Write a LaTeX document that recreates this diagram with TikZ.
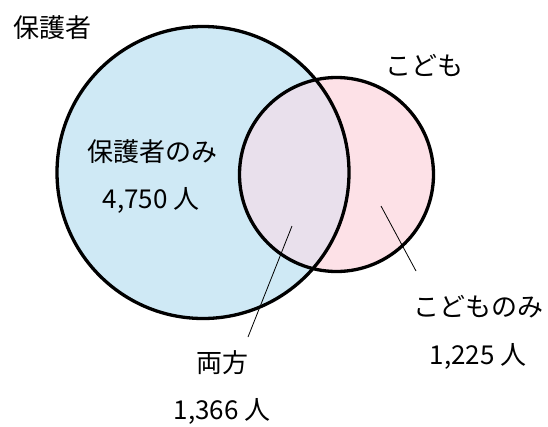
\documentclass[tikz,border=0pt]{standalone}
\usepackage{fontspec}
\newfontfamily\jp{Noto Sans CJK JP}
\definecolor{blue1}{HTML}{CFE9F5}
\definecolor{pink1}{HTML}{FDE1E7}
\definecolor{lav1}{HTML}{E9E0EC}
\tikzset{lbl/.style={font=\jp\fontsize{26}{30}\selectfont, inner sep=0pt},
  ring/.style={draw=black, line width=3.3pt},
  ptr/.style={draw=black, line width=0.8pt}}
\begin{document}
\begin{tikzpicture}[x=1pt,y=-1pt]
\useasboundingbox (0,0) rectangle (548,426);
\fill[white] (0,0) rectangle (548,426);
\coordinate (c1) at (203,172.5);
\coordinate (c2) at (336.5,174.5);
\fill[blue1] (c1) circle (146);
\fill[pink1] (c2) circle (97);
\begin{scope}
\clip (c1) circle (146);
\fill[lav1] (c2) circle (97);
\end{scope}
\draw[ring] (c1) circle (146);
\draw[ring] (c2) circle (97);
\node[lbl] (g) at (52,28) {保護者};
\node[lbl] (k) at (424,65) {こども};
\node[lbl] (go) at (152,152) {保護者のみ};
\node[lbl] (gn) at (151,200) {4,750 人};
\node[lbl] (r) at (222,363) {両方};
\node[lbl] (rn) at (222,411) {1,366 人};
\node[lbl] (ko) at (478,307) {こどものみ};
\node[lbl] (kn) at (478,356) {1,225 人};
\coordinate (p1) at (292,226);
\coordinate (p2) at (381,206);
\draw[ptr] (p1) -- (248,337) coordinate (q1);
\draw[ptr] (p2) -- (416,271) coordinate (q2);
\end{tikzpicture}
\end{document}
